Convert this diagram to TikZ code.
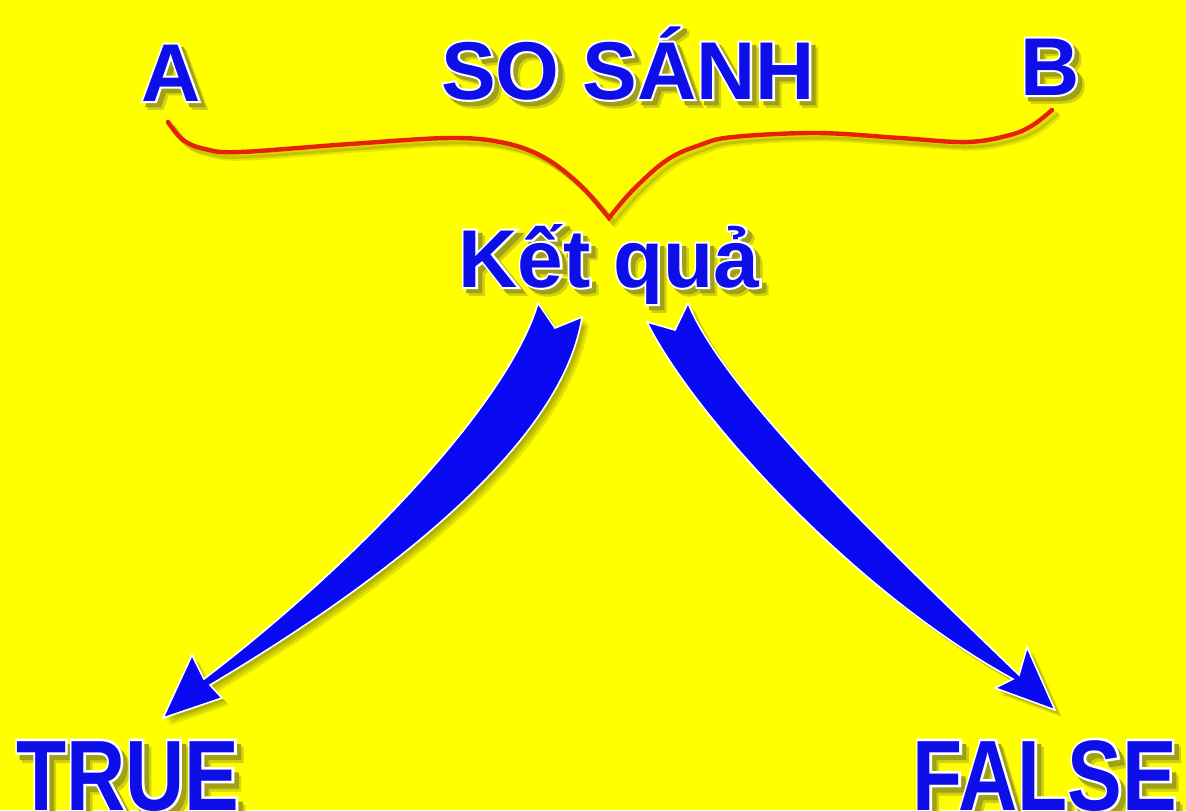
\documentclass[tikz,border=0pt]{standalone}
\usepackage{fontspec}
\setmainfont{Liberation Sans}
\newfontfamily\olfont{Liberation Sans Bold}[FakeBold=5]
\usepackage{graphicx}
\definecolor{bg}{RGB}{255,255,0}
\definecolor{tblue}{RGB}{14,14,232}
\definecolor{ablue}{RGB}{10,10,242}
\definecolor{bred}{RGB}{232,32,10}
\definecolor{shA}{RGB}{160,160,25}
\definecolor{shB}{RGB}{210,210,12}
\newcommand\fxcopy[3]{\rlap{\kern#1\raise#2\hbox{\color{#3}\copy2}}}
\newcommand\fx[1]{\setbox0=\hbox{#1}\setbox2=\hbox{\olfont\mdseries #1}\leavevmode
 \fxcopy{3.4pt}{-3.4pt}{shB}\fxcopy{2.2pt}{-2.2pt}{shA}\fxcopy{0pt}{0pt}{white}%
 \hbox{\color{tblue}\box0}}
\def\LApath{(538,303) .. controls (510,400) and (360,560) .. (204,679) -- (192,655) -- (163,718) -- (222,698) -- (210,685) .. controls (420,560) and (565,430) .. (582,317) -- (555,328) -- cycle}
\def\RApath{(647,322) .. controls (690,410) and (850,590) .. (1013,679) -- (995,688) -- (1055,710) -- (1027,647) -- (1019,675) .. controls (900,560) and (725,395) .. (688,303) -- (675,330) -- cycle}
\def\BRpath{plot[smooth,tension=0.6] coordinates {(168,122) (183,140) (205,149) (240,152) (350,144) (450,138) (505,143) (545,158) (580,185) (609,218)} -- plot[smooth,tension=0.6] coordinates {(609,218) (633,190) (667,160) (700,145) (733,137) (817,133) (900,138) (967,142) (1010,135) (1033,125) (1052,110)}}
\begin{document}
\begin{tikzpicture}[x=0.5pt,y=-0.5pt,
  txt/.style={inner sep=0pt, anchor=base, font=\fontsize{41}{41}\selectfont\bfseries},
  shapeblue/.style={fill=ablue, draw=white, line width=0.8pt, line join=miter},
  softshadow/.style={fill=black, opacity=0.11},
  bracestyle/.style={draw=bred, line width=2.2pt, line cap=round, line join=miter}]
\fill[bg] (0,0) rectangle (1186,810);
\useasboundingbox (0,0) rectangle (1186,810);
% brace
\foreach \d/\o in {6/0.10,4/0.14}{\draw[black, opacity=\o, line width=2.6pt, line cap=round, shift={(\d,\d)}] \BRpath;}
\draw[bracestyle] \BRpath;
% arrows
\foreach \d in {7,5,3}{\fill[softshadow, shift={(\d,\d)}] \LApath; \fill[softshadow, shift={(\d,\d)}] \RApath;}
\filldraw[shapeblue] \LApath;
\filldraw[shapeblue] \RApath;
\coordinate (lt) at (560,315);
\coordinate (lh) at (163,718);
\coordinate (rt) at (668,315);
\coordinate (rh) at (1055,710);
% texts
\node[txt] (nA) at (171,101) {\fx{A}};
\node[txt] (nB) at (1050,95) {\fx{B}};
\node[txt] (title) at (628,99) {\fx{SO SÁNH}};
\node[txt] (res) at (609,287) {\fx{Kết quả}};
\node[txt] (ntrue) at (128,810) {\scalebox{1}[1.22]{\fx{TRUE}}};
\node[txt] (nfalse) at (1045,810) {\scalebox{1}[1.22]{\fx{FALSE}}};
\end{tikzpicture}
\end{document}
